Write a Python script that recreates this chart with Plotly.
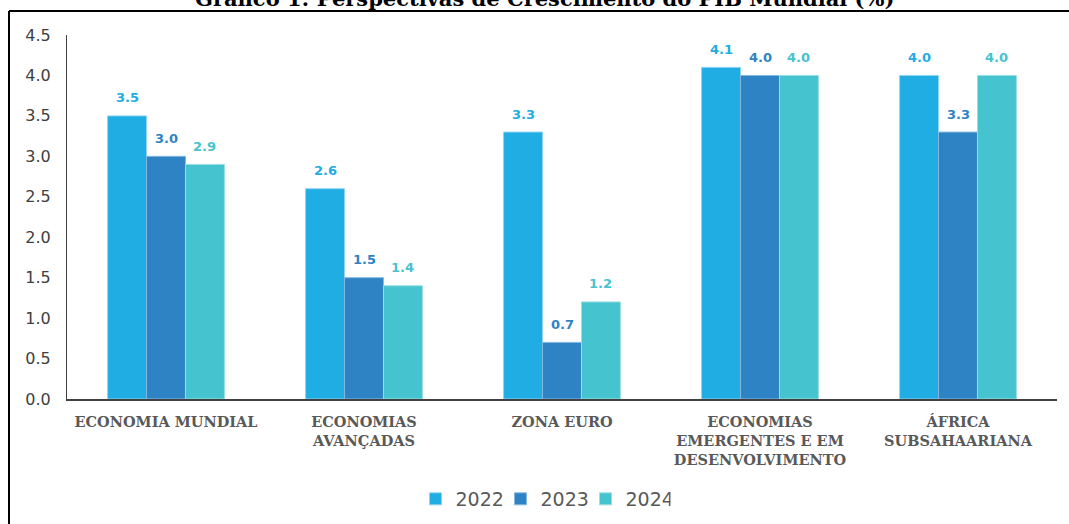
import plotly.graph_objects as go

categories = ["ECONOMIA MUNDIAL", "ECONOMIAS<br>AVANÇADAS", "ZONA EURO",
              "ECONOMIAS<br>EMERGENTES E EM<br>DESENVOLVIMENTO", "ÁFRICA<br>SUBSAHAARIANA"]
years = ["2022", "2023", "2024"]
v2022 = [3.5, 2.6, 3.3, 4.1, 4.0]
v2023 = [3.0, 1.5, 0.7, 4.0, 3.3]
v2024 = [2.9, 1.4, 1.2, 4.0, 4.0]
series = [v2022, v2023, v2024]
colors = ["#1FADE4", "#2E83C4", "#45C3CE"]
lines = ["#8FD3F1", "#86B8E0", "#9ADDE3"]
yticks = [0.0, 0.5, 1.0, 1.5, 2.0, 2.5, 3.0, 3.5, 4.0, 4.5]

W, H = 1069, 524
L, R, T, B = 67, 12, 35, 125
pw, ph = W - L - R, H - T - B

fig = go.Figure()
for name, vals, c, lc in zip(years, series, colors, lines):
    fig.add_trace(go.Bar(x=categories, y=vals, name=name,
                         marker=dict(color=c, line=dict(color=lc, width=1))))

bar_px = pw / len(categories) * (1 - 0.41) / 3
annotations = []
for i, (vals, c) in enumerate(zip(series, colors)):
    for cat, v in zip(categories, vals):
        annotations.append(dict(x=cat, y=v, xref="x", yref="y", text=f"<b>{v:.1f}</b>",
                                showarrow=False, xshift=(i - 1) * bar_px, yshift=18,
                                yanchor="middle",
                                font=dict(family="DejaVu Sans", size=13, color=c)))

def px_x(p):
    return (p - L) / pw

def px_y(p):
    return (H - B - p) / ph

# title (partially cut at the top)
annotations.append(dict(x=px_x(544), y=px_y(13), xref="paper", yref="paper",
                        text="<b>Gráfico 1: Perspectivas de Crescimento do PIB Mundial (%)</b>",
                        showarrow=False, yanchor="bottom", xanchor="center",
                        font=dict(family="DejaVu Serif", size=21, color="#000000")))

shapes = [
    dict(type="line", xref="paper", yref="paper", x0=px_x(9), x1=px_x(9),
         y0=px_y(11), y1=px_y(530), line=dict(color="#000000", width=2)),
    dict(type="line", xref="paper", yref="paper", x0=px_x(9), x1=px_x(1075),
         y0=px_y(11), y1=px_y(11), line=dict(color="#000000", width=2)),
]

fig.update_layout(
    width=W, height=H,
    margin=dict(l=L, r=R, t=T, b=B, autoexpand=False),
    paper_bgcolor="white", plot_bgcolor="white",
    barmode="group", bargap=0.41, bargroupgap=0.0,
    showlegend=True,
    legend=dict(orientation="h", x=px_x(543), xanchor="center", y=px_y(499), yanchor="middle",
                font=dict(family="DejaVu Sans", size=19, color="#595959"),
                itemwidth=30, traceorder="normal", entrywidth=40, entrywidthmode="pixels"),
    annotations=annotations,
    shapes=shapes,
    font=dict(family="DejaVu Sans"),
)
fig.update_yaxes(range=[0, 4.5], tickvals=yticks, ticktext=[f"{t:.1f}" for t in yticks],
                 showgrid=False, zeroline=False, showline=True, linecolor="#404040", linewidth=1,
                 ticks="", ticklabelstandoff=12, automargin=False,
                 tickfont=dict(family="DejaVu Sans", size=16, color="#404040"))
fig.update_xaxes(showgrid=False, showline=True, linecolor="#404040", linewidth=1.5, ticks="",
                 ticklabelstandoff=9, automargin=False,
                 tickfont=dict(family="DejaVu Serif", size=14.5, color="#595959"),
                 tickangle=0)
fig.update_xaxes(ticktext=[f"<b>{c}</b>" for c in categories], tickvals=categories)

fig.write_html("out.html", config={"displayModeBar": False},
               post_script="document.body.style.margin='0';")
